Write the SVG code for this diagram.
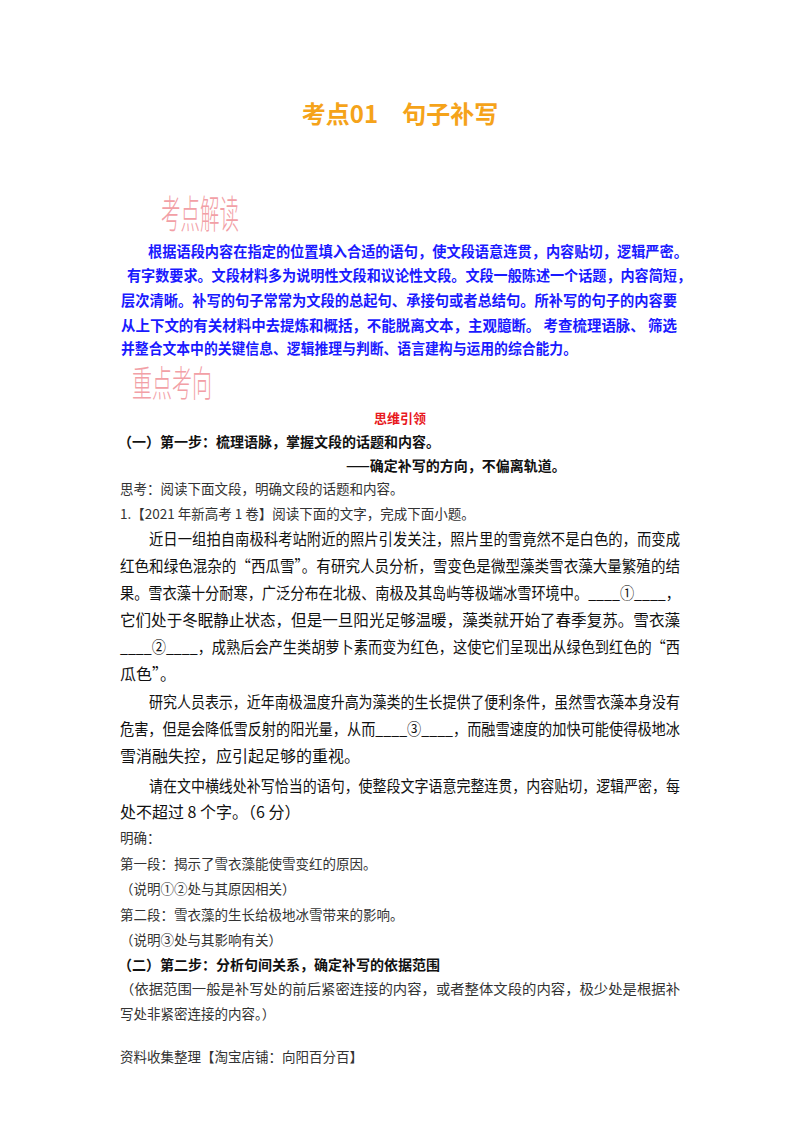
<svg xmlns="http://www.w3.org/2000/svg" width="800" height="1132" viewBox="0 0 800 1132">
<style>
text{font-family:"Noto Sans CJK SC","Liberation Serif",serif;}
.b{fill:#1a1aff;font-size:14.5px;font-weight:bold;}
.d{fill:#f2a0a6;font-size:30px;font-weight:300;}
.k{fill:#111;font-size:14px;font-weight:bold;}
.s{fill:#333;font-size:13.5px;font-family:"Noto Sans CJK SC",serif;}
.p{fill:#111;font-size:16px;}
</style>
<rect width="800" height="1132" fill="#fff"/>
<text x="400" y="123" text-anchor="middle" fill="#f5a31a" font-size="24" font-weight="bold">考点01　句子补写</text>
<text class="d" transform="translate(161,228) scale(1,1.3)" textLength="78" lengthAdjust="spacingAndGlyphs">考点解读</text>
<text class="b" x="148" y="257" textLength="540" lengthAdjust="spacingAndGlyphs">根据语段内容在指定的位置填入合适的语句，使文段语意连贯，内容贴切，逻辑严密。</text>
<text class="b" x="127" y="281" textLength="564" lengthAdjust="spacingAndGlyphs">有字数要求。文段材料多为说明性文段和议论性文段。文段一般陈述一个话题，内容简短，</text>
<text class="b" x="121" y="306" textLength="556" lengthAdjust="spacingAndGlyphs">层次清晰。补写的句子常常为文段的总起句、承接句或者总结句。所补写的句子的内容要</text>
<text class="b" x="121" y="331" textLength="556" lengthAdjust="spacingAndGlyphs">从上下文的有关材料中去提炼和概括，不能脱离文本，主观臆断。 考查梳理语脉、 筛选</text>
<text class="b" x="121" y="354" textLength="456" lengthAdjust="spacingAndGlyphs">并整合文本中的关键信息、逻辑推理与判断、语言建构与运用的综合能力。</text>
<text class="d" transform="translate(132,397) scale(1,1.2)" textLength="80" lengthAdjust="spacingAndGlyphs">重点考向</text>
<text x="400" y="423" text-anchor="middle" fill="#e8191e" font-size="13" font-weight="bold">思维引领</text>
<text class="k" x="118" y="447">（一）第一步：梳理语脉，掌握文段的话题和内容。</text>
<text class="k" x="346" y="471">——确定补写的方向，不偏离轨道。</text>
<text class="s" x="120" y="494">思考：阅读下面文段，明确文段的话题和内容。</text>
<text class="s" x="120" y="519">1.【2021 年新高考 1 卷】阅读下面的文字，完成下面小题。</text>
<text class="p" x="149" y="545" textLength="531" lengthAdjust="spacingAndGlyphs">近日一组拍自南极科考站附近的照片引发关注，照片里的雪竟然不是白色的，而变成</text>
<text class="p" x="120" y="572" textLength="560" lengthAdjust="spacingAndGlyphs">红色和绿色混杂的“西瓜雪”。有研究人员分析，雪变色是微型藻类雪衣藻大量繁殖的结</text>
<text class="p" x="120" y="599" textLength="560" lengthAdjust="spacingAndGlyphs">果。雪衣藻十分耐寒，广泛分布在北极、南极及其岛屿等极端冰雪环境中。____①____，</text>
<text class="p" x="120" y="626" textLength="560" lengthAdjust="spacingAndGlyphs">它们处于冬眠静止状态，但是一旦阳光足够温暖，藻类就开始了春季复苏。雪衣藻</text>
<text class="p" x="120" y="653" textLength="560" lengthAdjust="spacingAndGlyphs">____②____，成熟后会产生类胡萝卜素而变为红色，这使它们呈现出从绿色到红色的“西</text>
<text class="p" x="120" y="680">瓜色”。</text>
<text class="p" x="149" y="708" textLength="531" lengthAdjust="spacingAndGlyphs">研究人员表示，近年南极温度升高为藻类的生长提供了便利条件，虽然雪衣藻本身没有</text>
<text class="p" x="120" y="735" textLength="560" lengthAdjust="spacingAndGlyphs">危害，但是会降低雪反射的阳光量，从而____③____，而融雪速度的加快可能使得极地冰</text>
<text class="p" x="120" y="762">雪消融失控，应引起足够的重视。</text>
<text class="p" x="149" y="792" textLength="531" lengthAdjust="spacingAndGlyphs">请在文中横线处补写恰当的语句，使整段文字语意完整连贯，内容贴切，逻辑严密，每</text>
<text class="p" x="120" y="818">处不超过 8 个字。（6 分）</text>
<text class="s" x="120" y="843">明确：</text>
<text class="s" x="120" y="869">第一段：揭示了雪衣藻能使雪变红的原因。</text>
<text class="s" x="120" y="894">（说明①②处与其原因相关）</text>
<text class="s" x="120" y="920">第二段：雪衣藻的生长给极地冰雪带来的影响。</text>
<text class="s" x="120" y="945">（说明③处与其影响有关）</text>
<text class="k" x="118" y="970">（二）第二步：分析句间关系，确定补写的依据范围</text>
<text class="s" x="120" y="994" textLength="560" lengthAdjust="spacingAndGlyphs">（依据范围一般是补写处的前后紧密连接的内容，或者整体文段的内容，极少处是根据补</text>
<text class="s" x="120" y="1019">写处非紧密连接的内容。）</text>
<text class="s" x="120" y="1062" font-size="12.5">资料收集整理【淘宝店铺：向阳百分百】</text>
</svg>
